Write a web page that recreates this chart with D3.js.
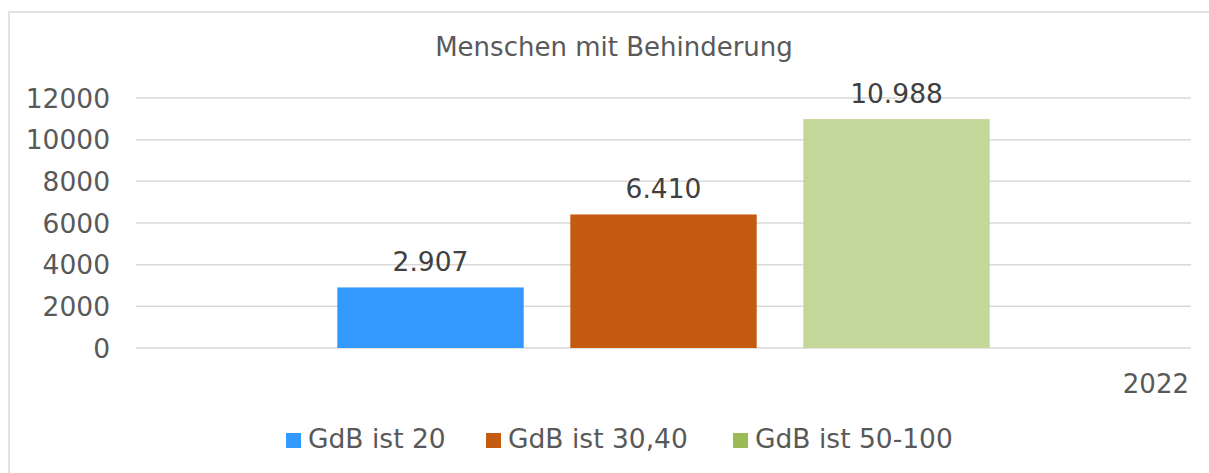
<!DOCTYPE html>
<meta charset="utf-8">
<style>
    body { margin: 0; background: #fff; }
    text { font-family: 'DejaVu Sans', Verdana, sans-serif; }
</style>
<svg width="1209" height="473"></svg>
<script src="https://d3js.org/d3.v7.min.js"></script>
<script>

    // data
    const categories = ["2022"];
    const seriesNames = ["GdB ist 20", "GdB ist 30,40", "GdB ist 50-100"];
    const seriesValues = [2907, 6410, 10988];
    const valueLabels = ["2.907", "6.410", "10.988"];
    const barColors = ["#3399ff", "#c55a11", "#c4d79b"];
    const legendColors = ["#3399ff", "#c55a11", "#9bbb59"];
    const yTicks = [0, 2000, 4000, 6000, 8000, 10000, 12000];

    var svg = d3.select("svg"),
        width = +svg.attr("width"),
        height = +svg.attr("height");

    // chart frame
    svg.append("rect")
        .attr("x", 9).attr("y", 12)
        .attr("width", 1220).attr("height", 480)
        .attr("fill", "none")
        .attr("stroke", "#d9d9d9")
        .attr("stroke-width", 1.5);

    var plotLeft = 136, plotRight = 1191, plotTop = 98, plotBottom = 348;

    var y = d3.scaleLinear().domain([0, 12000]).range([plotBottom, plotTop]);
    var x0 = d3.scaleBand().domain(categories).range([plotLeft, plotRight]);
    var x1 = d3.scaleBand().domain(seriesNames)
        .range([0, x0.bandwidth()])
        .paddingInner(0.2)
        .paddingOuter(0.864);

    // gridlines
    svg.append("g").selectAll("line")
        .data(yTicks)
        .enter().append("line")
        .attr("x1", plotLeft).attr("x2", plotRight)
        .attr("y1", d => y(d)).attr("y2", d => y(d))
        .attr("stroke", "#d9d9d9")
        .attr("stroke-width", 1.5);

    // y tick labels
    svg.append("g").selectAll("text")
        .data(yTicks)
        .enter().append("text")
        .attr("x", 110)
        .attr("y", d => y(d))
        .attr("dy", "0.36em")
        .attr("text-anchor", "end")
        .style("font-size", "26.5px")
        .style("fill", "#595959")
        .text(d => d);

    // title
    svg.append("text")
        .attr("x", 614).attr("y", 56)
        .attr("text-anchor", "middle")
        .style("font-size", "26px")
        .style("fill", "#595959")
        .text("Menschen mit Behinderung");

    var bars = seriesNames.map((s, i) => ({ cat: categories[0], name: s, value: seriesValues[i], label: valueLabels[i], color: barColors[i] }));

    svg.append("g").selectAll("rect")
        .data(bars)
        .enter().append("rect")
        .attr("x", d => x0(d.cat) + x1(d.name))
        .attr("y", d => y(d.value))
        .attr("width", x1.bandwidth())
        .attr("height", d => y(0) - y(d.value))
        .attr("fill", d => d.color);

    svg.append("g").selectAll("text")
        .data(bars)
        .enter().append("text")
        .attr("x", d => x0(d.cat) + x1(d.name) + x1.bandwidth() / 2)
        .attr("y", d => y(d.value) - 16)
        .attr("text-anchor", "middle")
        .style("font-size", "26.5px")
        .style("fill", "#404040")
        .text(d => d.label);

    // category label
    svg.append("text")
        .attr("x", 1189).attr("y", 393)
        .attr("text-anchor", "end")
        .style("font-size", "26px")
        .style("fill", "#595959")
        .text(categories[0]);

    // legend
    var legendX = [286, 486, 733];
    var legend = svg.append("g").selectAll("g")
        .data(seriesNames)
        .enter().append("g")
        .attr("transform", (d, i) => "translate(" + legendX[i] + ",433)");
    legend.append("rect")
        .attr("width", 15).attr("height", 15)
        .attr("fill", (d, i) => legendColors[i]);
    legend.append("text")
        .attr("x", 22).attr("y", 15)
        .style("font-size", "26.5px")
        .style("fill", "#595959")
        .text(d => d);

</script>
